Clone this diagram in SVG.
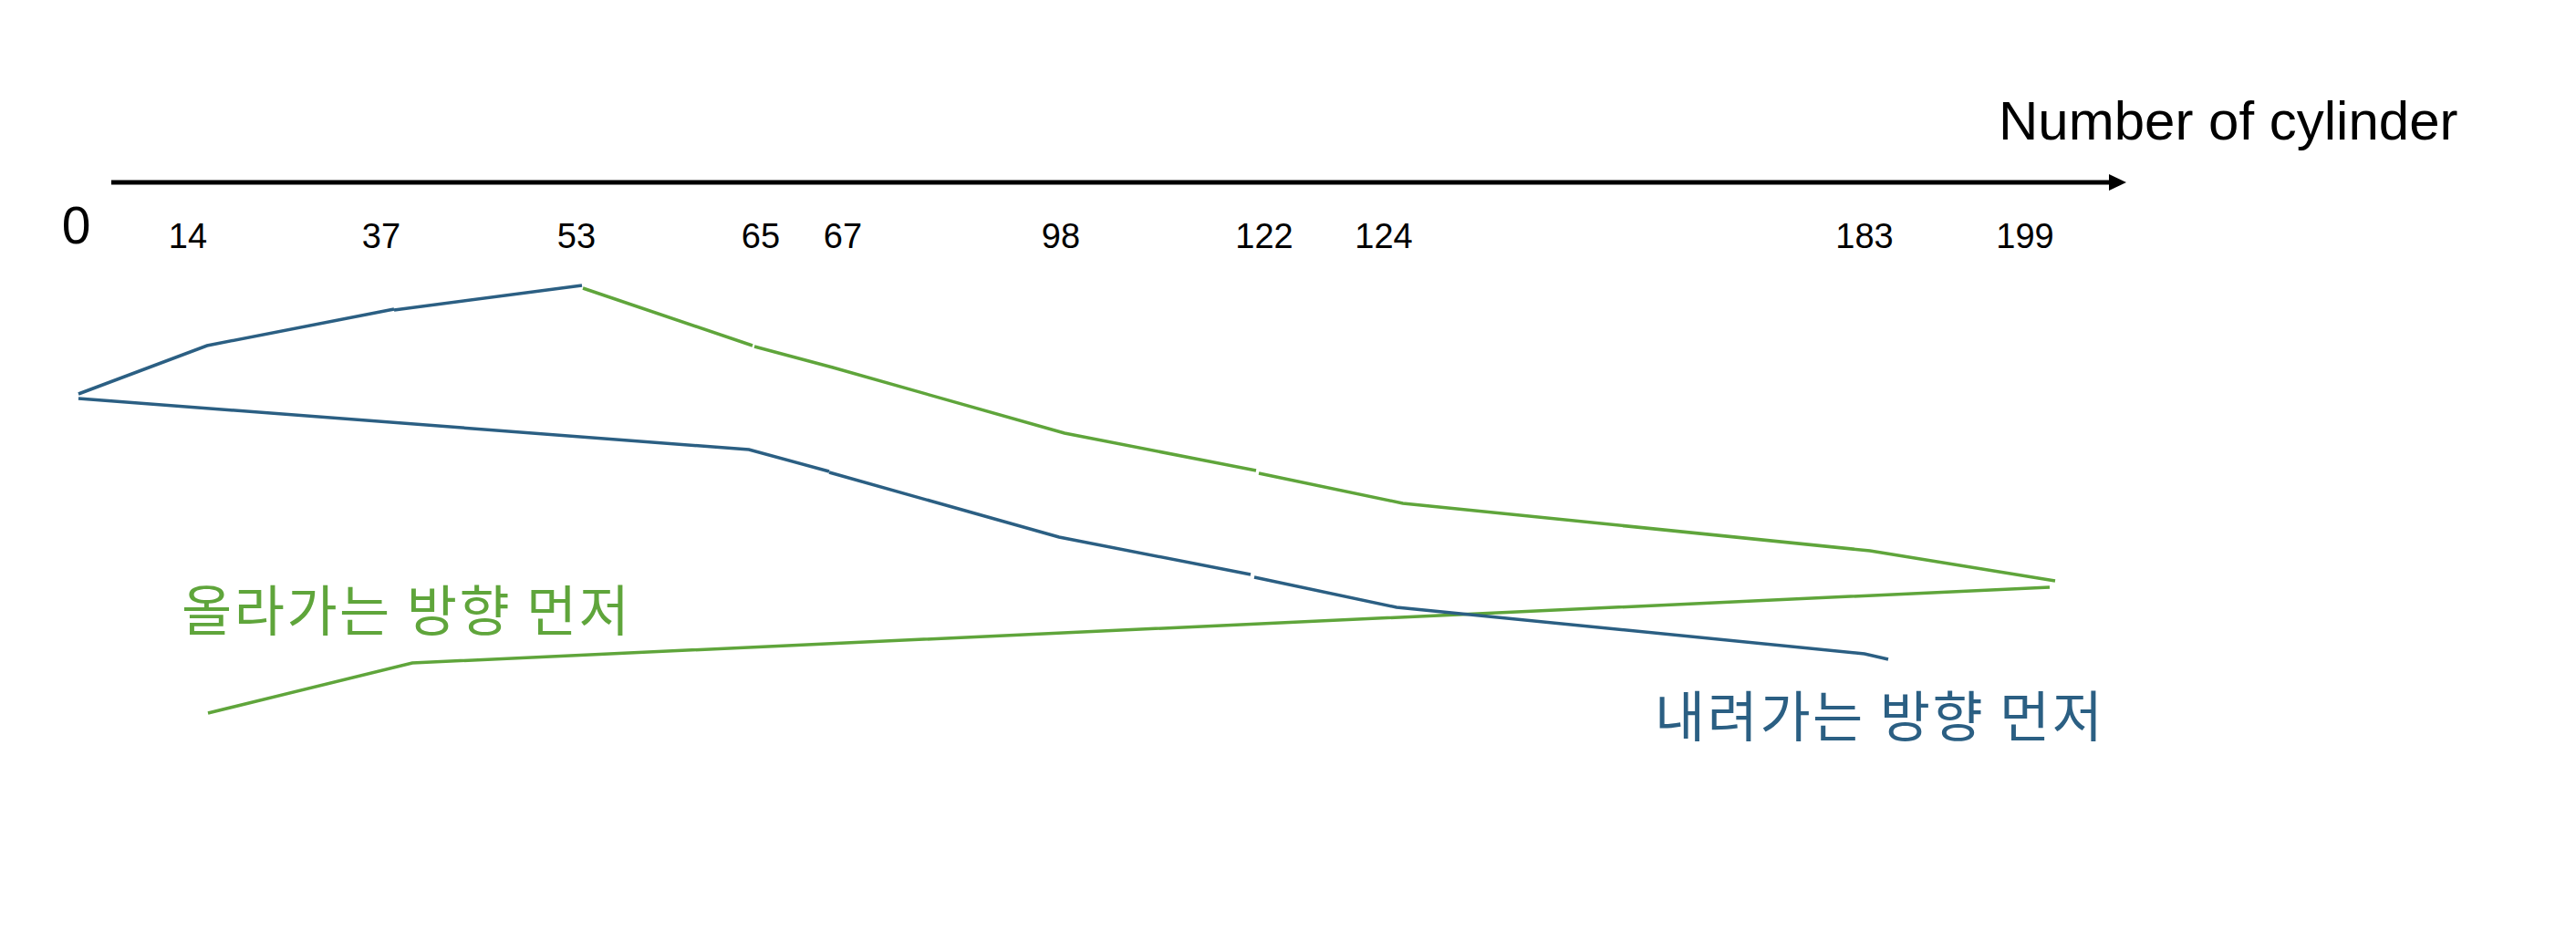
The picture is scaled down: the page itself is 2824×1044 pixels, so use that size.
<svg xmlns="http://www.w3.org/2000/svg" width="2824" height="1044" viewBox="0 0 2824 1044">
<style>
.tick{font-family:"Liberation Sans",Arial,sans-serif;font-size:38px;fill:#000;text-anchor:middle}
.blue{fill:none;stroke:#2b5f83;stroke-width:3.5;stroke-linejoin:miter}
.green{fill:none;stroke:#5fa53b;stroke-width:3.5;stroke-linejoin:miter}
.kr{font-family:"Noto Sans CJK KR","Noto Sans CJK SC",sans-serif;font-size:60px;letter-spacing:2.5px}
</style>
<rect width="2824" height="1044" fill="#fff"/>
<g id="axis">
<line x1="122" y1="200" x2="2314" y2="200" stroke="#000" stroke-width="5"/>
<polygon points="2312,191 2331,200 2312,209" fill="#000"/>
<text x="2191" y="153" font-family="Liberation Sans,Arial,sans-serif" font-size="60">Number of cylinder</text>
<text x="83.5" y="267" font-family="Liberation Sans,Arial,sans-serif" font-size="57" text-anchor="middle">0</text>
</g>
<g id="ticks">
<text class="tick" x="206" y="272">14</text>
<text class="tick" x="418" y="272">37</text>
<text class="tick" x="632" y="272">53</text>
<text class="tick" x="834" y="272">65</text>
<text class="tick" x="924" y="272">67</text>
<text class="tick" x="1163" y="272">98</text>
<text class="tick" x="1386" y="272">122</text>
<text class="tick" x="1517" y="272">124</text>
<text class="tick" x="2044" y="272">183</text>
<text class="tick" x="2220" y="272">199</text>
</g>
<g id="connectors">
<polyline class="blue" points="86,432 227,379 432,339"/>
<polyline class="blue" points="432,340 638,313"/>
<polyline class="green" points="639,316 825,379"/>
<polyline class="green" points="827,380 913,403 1167,475 1377,516"/>
<polyline class="green" points="1380,519 1538,552 2050,604 2253,637"/>
<polyline class="green" points="2247,644 452,727 228,782"/>
<polyline class="blue" points="86,437 821,493 909,517"/>
<polyline class="blue" points="909,518 1161,589 1371,630"/>
<polyline class="blue" points="1375,633 1531,666 2044,717 2070,723"/>
</g>
<g id="label-up">
<text class="kr" x="199" y="692" fill="#5fa53b">올라가는 방향 먼저</text>
</g>
<g id="label-down">
<text class="kr" x="1814" y="808" fill="#2b5f83">내려가는 방향 먼저</text>
</g>
</svg>
